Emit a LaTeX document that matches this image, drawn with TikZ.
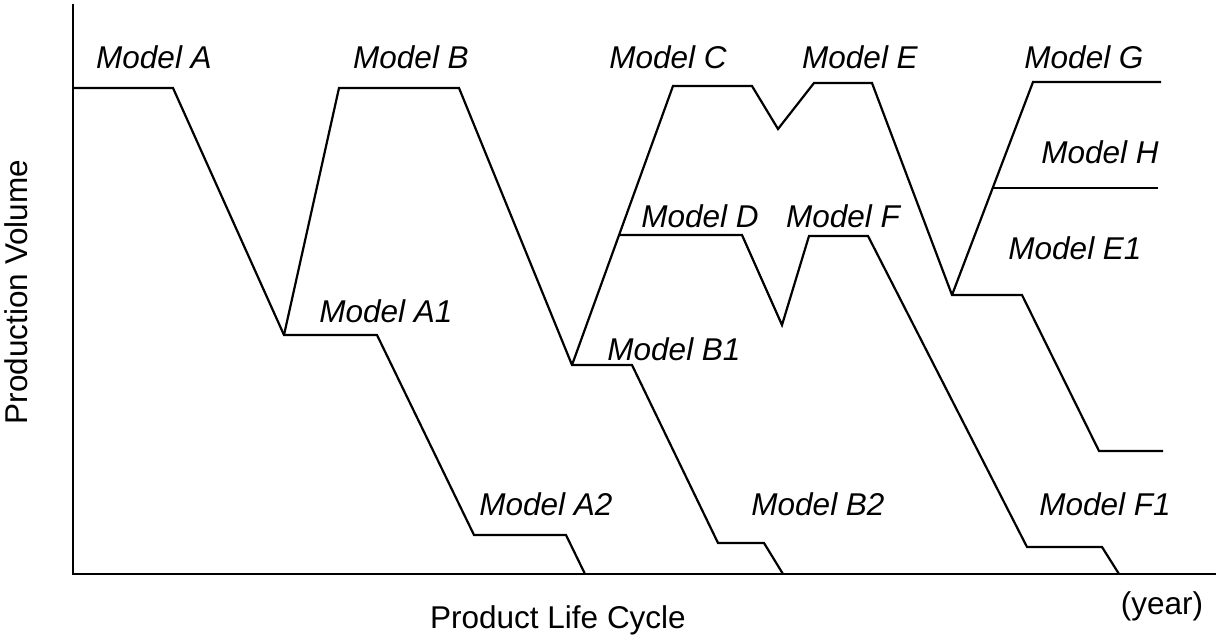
\documentclass[tikz,border=0pt]{standalone}
\usepackage{fontspec}
\setmainfont{Liberation Sans}

\begin{document}
\begin{tikzpicture}[x=1pt,y=-1pt,
  curve/.style={draw,line width=2.2pt,line join=miter},
  axis/.style={draw,line width=2.5pt},
  model/.style={font=\fontsize{31.5}{36}\selectfont\itshape},
  axislabel/.style={font=\fontsize{31.5}{36}\selectfont}]
\useasboundingbox (0,0) rectangle (1216,635);
% axes
\coordinate (top) at (73,4);
\coordinate (origin) at (73,574);
\coordinate (right) at (1216,574);
\path[axis] (top) -- (origin) -- (right);
% vertices
\coordinate (a0) at (73,88);
\coordinate (a1) at (173,88);
\coordinate (a2) at (284,335);
\coordinate (a3) at (377,335);
\coordinate (a4) at (474,535);
\coordinate (a5) at (566,535);
\coordinate (a6) at (585,574);
\coordinate (b0) at (339,88);
\coordinate (b1) at (459,88);
\coordinate (b2) at (572,365);
\coordinate (b3) at (632,365);
\coordinate (b4) at (718,543);
\coordinate (b5) at (764,543);
\coordinate (b6) at (783,574);
\coordinate (c0) at (673,86);
\coordinate (c1) at (752,86);
\coordinate (c2) at (778,129);
\coordinate (d0) at (620,235);
\coordinate (d1) at (742,235);
\coordinate (d2) at (782,325);
\coordinate (e0) at (814,83);
\coordinate (e1) at (872,83);
\coordinate (e2) at (952,295);
\coordinate (e3) at (1022,295);
\coordinate (e4) at (1099,451);
\coordinate (e5) at (1163,451);
\coordinate (f0) at (809,236);
\coordinate (f1) at (868,236);
\coordinate (f2) at (1027,547);
\coordinate (f3) at (1102,547);
\coordinate (f4) at (1119,574);
\coordinate (g0) at (1033,82);
\coordinate (g1) at (1161,82);
\coordinate (h0) at (993,188);
\coordinate (h1) at (1158,188);
% product lines
\path[curve] (a0) -- (a1) -- (a2) -- (a3) -- (a4) -- (a5) -- (a6);
\path[curve] (a2) -- (b0) -- (b1) -- (b2) -- (b3) -- (b4) -- (b5) -- (b6);
\path[curve] (b2) -- (c0) -- (c1) -- (c2) -- (e0) -- (e1) -- (e2) -- (e3) -- (e4) -- (e5);
\path[curve] (d0) -- (d1) -- (d2) -- (f0) -- (f1) -- (f2) -- (f3) -- (f4);
\path[curve] (e2) -- (g0) -- (g1);
\path[curve] (h0) -- (h1);
% labels
\node[model] (lA) at (154,57) {Model A};
\node[model] (lB) at (411,57) {Model B};
\node[model] (lC) at (668,57) {Model C};
\node[model] (lE) at (860,57) {Model E};
\node[model] (lG) at (1084,57) {Model G};
\node[model] (lH) at (1100,152) {Model H};
\node[model] (lE1) at (1075,248) {Model E1};
\node[model] (lD) at (700,216) {Model D};
\node[model] (lF) at (843,216) {Model F};
\node[model] (lA1) at (386,311) {Model A1};
\node[model] (lB1) at (674,349) {Model B1};
\node[model] (lA2) at (546,504) {Model A2};
\node[model] (lB2) at (818,504) {Model B2};
\node[model] (lF1) at (1105,504) {Model F1};
\node[axislabel] (xlab) at (558,620) {Product Life Cycle};
\node[axislabel] (year) at (1162,606) {(year)};
\node[axislabel,rotate=90] (ylab) at (16,292) {Production Volume};
\end{tikzpicture}
\end{document}
